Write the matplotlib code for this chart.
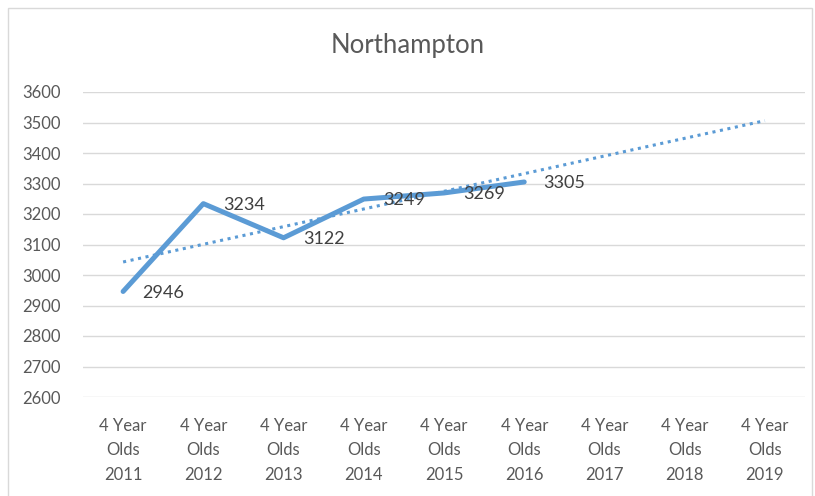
import numpy as np
import matplotlib
matplotlib.use("Agg")
import matplotlib.pyplot as plt
from matplotlib.patches import Rectangle

plt.rcParams["font.family"] = ["Lato", "DejaVu Sans"]

years = ["2011", "2012", "2013", "2014", "2015", "2016", "2017", "2018", "2019"]
labels = ["4 Year\nOlds\n" + y for y in years]
values = [2946, 3234, 3122, 3249, 3269, 3305]

BLUE = "#5B9BD5"
TXT = "#595959"
GRID = "#D9D9D9"

fig = plt.figure(figsize=(8.15, 4.96), dpi=100)
fig.patches.append(Rectangle((8 / 815, -0.1), 804 / 815, 1.1 - 8 / 496,
                             transform=fig.transFigure, fill=False,
                             edgecolor=GRID, linewidth=1))
ax = fig.add_axes([83 / 815, 1 - 397 / 496, 722 / 815, 305 / 496])

x = np.arange(len(values))
xall = np.arange(len(labels))

# linear trendline, as Excel draws it, extended over all categories
k, b = np.polyfit(x + 1, values, 1)
ax.plot(xall, k * (xall + 1) + b, color=BLUE, linewidth=2.2, linestyle=(0, (1, 1.5)))

ax.plot(x, values, color=BLUE, linewidth=3.6, solid_capstyle="round", solid_joinstyle="round")
for xi, v in zip(x, values):
    ax.annotate(str(v), (xi, v), xytext=(14, -1), textcoords="offset points",
                ha="left", va="center", fontsize=13, color="#404040")

ax.set_xlim(-0.5, len(labels) - 0.5)
ax.set_ylim(2600, 3600)
ax.set_yticks(range(2600, 3601, 100))
ax.set_xticks(xall)
ax.set_xticklabels(labels, fontsize=12, color=TXT, linespacing=1.65)
ax.tick_params(axis="y", labelsize=12, labelcolor=TXT, length=0, pad=16)
ax.tick_params(axis="x", length=0, pad=15)
ax.grid(axis="y", color=GRID, linewidth=1)
ax.set_axisbelow(True)
for s in ax.spines.values():
    s.set_visible(False)

fig.text(0.5, 1 - 46 / 496, "Northampton", ha="center", va="center",
         fontsize=18.5, color=TXT)

fig.savefig("out.png", dpi=100)
